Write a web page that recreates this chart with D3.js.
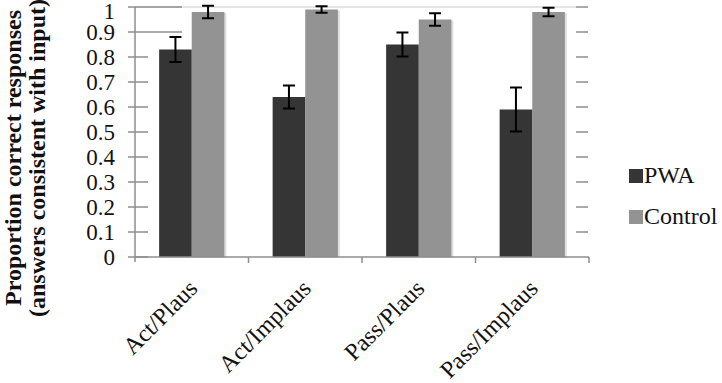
<!DOCTYPE html>
<html>
<head>
<meta charset="utf-8">
<script src="https://cdn.jsdelivr.net/npm/d3@7"></script>
</head>
<body style="margin:0">
<script>
// values
var categories = ["Act/Plaus", "Act/Implaus", "Pass/Plaus", "Pass/Implaus"];
var groups = ["PWA", "Control"];
var pwaValues = [0.83, 0.64, 0.85, 0.59];
var controlValues = [0.98, 0.99, 0.95, 0.98];
var pwaErrors = [0.05, 0.046, 0.048, 0.088];
var controlErrors = [0.025, 0.013, 0.025, 0.017];
var yTicks = [0, 0.1, 0.2, 0.3, 0.4, 0.5, 0.6, 0.7, 0.8, 0.9, 1];
var colors = {PWA: "#353535", Control: "#939393"};

var serif = "Times New Roman";
var w = 722, h = 383;
var svg = d3.select("body").append("svg")
    .attr("width", w)
    .attr("height", h);

var x0 = d3.scaleBand().domain(categories).range([135, 589]);
var x1 = d3.scaleBand().domain(groups).range([0, x0.bandwidth()]).paddingOuter(0.74);
var y = d3.scaleLinear().domain([0, 1]).range([257, 7]);

var axisColor = "#8e8e8e";

// top light gridline
svg.append("line")
    .attr("x1", 135).attr("x2", 576)
    .attr("y1", y(1)).attr("y2", y(1))
    .attr("stroke", "#dcdcdc").attr("stroke-width", 1.5);

// left ticks (the two top ones run further in)
svg.selectAll(".lTick")
    .data(yTicks)
    .enter().append("line")
    .attr("class", "lTick")
    .attr("x1", 128)
    .attr("x2", function(d){ return d >= 0.9 ? 182 : 148; })
    .attr("y1", function(d){ return y(d); })
    .attr("y2", function(d){ return y(d); })
    .attr("stroke", axisColor).attr("stroke-width", 1.5);

// right ticks
svg.selectAll(".rTick")
    .data(yTicks.filter(function(d){ return d > 0; }))
    .enter().append("line")
    .attr("class", "rTick")
    .attr("x1", 576).attr("x2", 588)
    .attr("y1", function(d){ return y(d); })
    .attr("y2", function(d){ return y(d); })
    .attr("stroke", axisColor).attr("stroke-width", 1.5);

// tick labels
svg.selectAll(".yLabel")
    .data(yTicks)
    .enter().append("text")
    .attr("class", "yLabel")
    .attr("x", 115)
    .attr("y", function(d){ return Math.max(y(d) + 8, 19); })
    .attr("text-anchor", "end")
    .attr("font-family", serif)
    .attr("font-size", 23)
    .attr("fill", "#111")
    .text(function(d){ return String(d); });

// left axis line
svg.append("line")
    .attr("x1", 135).attr("x2", 135)
    .attr("y1", y(1)).attr("y2", y(0) + 5)
    .attr("stroke", axisColor).attr("stroke-width", 1.5);

// bars
var table = categories.map(function(c, i){
    return {cat: c, vals: [
        {key: "PWA", v: pwaValues[i], e: pwaErrors[i]},
        {key: "Control", v: controlValues[i], e: controlErrors[i]}
    ]};
});

var grp = svg.selectAll(".grp")
    .data(table)
    .enter().append("g")
    .attr("class", "grp")
    .attr("transform", function(d){ return "translate(" + x0(d.cat) + ",0)"; });

// soft shadow like the original
grp.selectAll(".shadow")
    .data(function(d){ return d.vals; })
    .enter().append("rect")
    .attr("class", "shadow")
    .attr("x", function(d){ return x1(d.key) + 2; })
    .attr("y", function(d){ return y(d.v) + 1; })
    .attr("width", x1.bandwidth())
    .attr("height", function(d){ return y(0) - y(d.v); })
    .attr("fill", "#000")
    .attr("fill-opacity", 0.13);

grp.selectAll(".bar")
    .data(function(d){ return d.vals; })
    .enter().append("rect")
    .attr("class", "bar")
    .attr("x", function(d){ return x1(d.key); })
    .attr("y", function(d){ return y(d.v); })
    .attr("width", x1.bandwidth())
    .attr("height", function(d){ return y(0) - y(d.v); })
    .attr("fill", function(d){ return colors[d.key]; });

// baseline + category ticks
svg.append("line")
    .attr("x1", 135).attr("x2", 589)
    .attr("y1", y(0)).attr("y2", y(0))
    .attr("stroke", axisColor).attr("stroke-width", 1.5);
svg.selectAll(".cTick")
    .data(categories)
    .enter().append("line")
    .attr("class", "cTick")
    .attr("x1", function(d){ return x0(d) + x0.bandwidth(); })
    .attr("x2", function(d){ return x0(d) + x0.bandwidth(); })
    .attr("y1", y(0)).attr("y2", y(0) + 6)
    .attr("stroke", axisColor).attr("stroke-width", 1.5);

// error bars
var err = grp.selectAll(".err")
    .data(function(d){ return d.vals; })
    .enter().append("g")
    .attr("class", "err")
    .attr("stroke", "#000")
    .attr("stroke-width", 2);
err.append("line")
    .attr("x1", function(d){ return x1(d.key) + x1.bandwidth()/2; })
    .attr("x2", function(d){ return x1(d.key) + x1.bandwidth()/2; })
    .attr("y1", function(d){ return y(Math.min(d.v + d.e, 1.005)); })
    .attr("y2", function(d){ return y(d.v - d.e); });
err.append("line")
    .attr("x1", function(d){ return x1(d.key) + x1.bandwidth()/2 - 6; })
    .attr("x2", function(d){ return x1(d.key) + x1.bandwidth()/2 + 6; })
    .attr("y1", function(d){ return y(Math.min(d.v + d.e, 1.005)); })
    .attr("y2", function(d){ return y(Math.min(d.v + d.e, 1.005)); });
err.append("line")
    .attr("x1", function(d){ return x1(d.key) + x1.bandwidth()/2 - 6; })
    .attr("x2", function(d){ return x1(d.key) + x1.bandwidth()/2 + 6; })
    .attr("y1", function(d){ return y(d.v - d.e); })
    .attr("y2", function(d){ return y(d.v - d.e); });

// category labels
svg.selectAll(".xLabel")
    .data(categories)
    .enter().append("text")
    .attr("class", "xLabel")
    .attr("text-anchor", "end")
    .attr("font-family", serif)
    .attr("font-size", 24)
    .attr("fill", "#111")
    .attr("transform", function(d){
        return "translate(" + (x0(d) + x0.bandwidth()/2 + 7) + "," + 290 + ") rotate(-45)";
    })
    .text(function(d){ return d; });

// y axis title
var title = svg.append("text")
    .attr("transform", "translate(0,158) rotate(-90)")
    .attr("text-anchor", "middle")
    .attr("font-family", serif)
    .attr("font-size", 24)
    .attr("font-weight", "bold")
    .attr("fill", "#111");
title.append("tspan").attr("x", 0).attr("y", 21).text("Proportion correct responses");
title.append("tspan").attr("x", 0).attr("y", 45).text("(answers consistent with input)");

// legend
var legend = svg.selectAll(".legend")
    .data(groups)
    .enter().append("g")
    .attr("class", "legend")
    .attr("transform", function(d, i){ return "translate(629," + (169 + i*41) + ")"; });
legend.append("rect")
    .attr("width", 14).attr("height", 14)
    .attr("fill", function(d){ return colors[d]; });
legend.append("text")
    .attr("x", 15).attr("y", 14)
    .attr("font-family", serif)
    .attr("font-size", 24)
    .attr("fill", "#111")
    .text(function(d){ return d; });
</script>
</body>
</html>
